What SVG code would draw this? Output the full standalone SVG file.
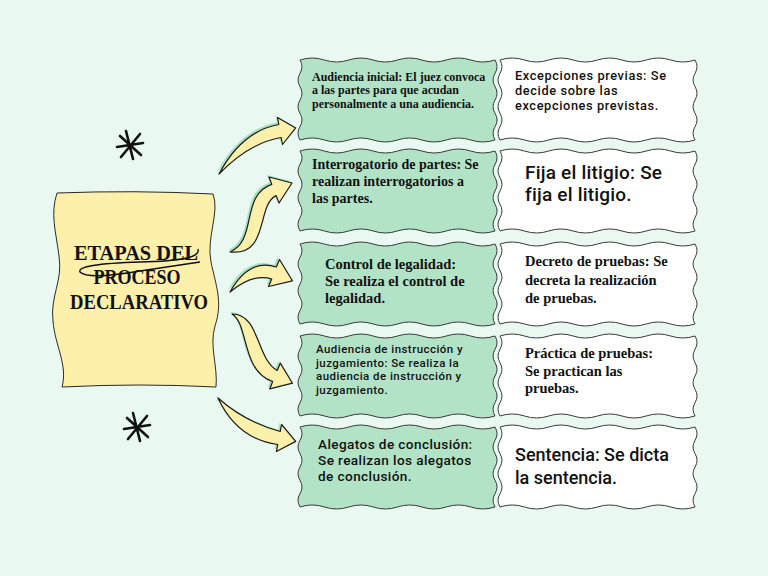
<svg xmlns="http://www.w3.org/2000/svg" xmlns:xlink="http://www.w3.org/1999/xlink" width="768" height="576" viewBox="0 0 768 576">
<style>
.bg{fill:#e9f8f0}
.green{fill:#b3e3c7;stroke:#3a3a3a;stroke-width:1}
.white{fill:#ffffff;stroke:#3a3a3a;stroke-width:1}
.yellow{fill:#fdf0aa;stroke:#2a2a2a;stroke-width:1}
.arrow{fill:#fdf0aa;stroke:#1a1a1a;stroke-width:1.2;stroke-linejoin:round}
.shadow{fill:#a8dfc0;stroke:none}
.serif{font-family:"Liberation Serif","Times New Roman",serif;font-weight:bold;fill:#111}
.sans{font-family:Roboto,"Liberation Sans",sans-serif;font-weight:500;fill:#111}
.star{stroke:#111;stroke-width:2.6;stroke-linecap:round;fill:none}
</style>
<defs>
<path id="wv" d="M0 0 q12.19 -4 24.38 0 t24.38 0 t24.38 0 t24.38 0 t24.38 0 t24.38 0 t24.38 0 t24.38 0 q4 6.67 0 13.33 t0 13.33 t0 13.33 t0 13.33 t0 13.33 t0 13.33 q-12.19 4 -24.38 0 t-24.38 0 t-24.38 0 t-24.38 0 t-24.38 0 t-24.38 0 t-24.38 0 t-24.38 0 q-4 -6.67 0 -13.33 t0 -13.33 t0 -13.33 t0 -13.33 t0 -13.33 t0 -13.33 z"/>
<path id="a1" d="M219 174 Q242 131 278.8 124.5 L277.5 117.5 L295.7 127.9 L282.5 144.5 L281.2 137.5 Q249 143 219 174 Z"/>
<path id="a2" d="M230 252 C258 240 240 195 271.8 184.4 L269 177 L292 183 L279 203 L276.2 195.6 C256 205 270 256 230 252 Z"/>
<path id="a3" d="M230 292 Q249 258 276.3 267 L279.5 259.5 L292.4 280.8 L268.5 286.5 L271.7 279 Q253 273 230 292 Z"/>
<path id="a4" d="M232 314 C260 314 256 359 277.3 370.5 L280.3 363.1 L292.5 383.2 L269.7 388.9 L272.7 381.5 C241 371 249 324 232 314 Z"/>
<path id="a5" d="M218 398 Q245 422 280.2 431.5 L281.6 424.5 L295.7 441.4 L276.4 451.5 L277.8 444.5 Q237 439 218 398 Z"/>
</defs>
<rect class="bg" x="0" y="0" width="768" height="576"/>

<g id="decor">
<path class="star" d="M126 131 L133 159 M117 147 L143 143 M120 136 L141 155 M140 134 L121 157"/>
<path class="star" d="M133 413 L140 441 M124 429 L150 425 M127 418 L148 437 M147 416 L128 439"/>
</g>

<g id="connectors">
<use href="#a1" class="shadow" transform="translate(-2,-2)"/>
<use href="#a2" class="shadow" transform="translate(-2,-2)"/>
<use href="#a3" class="shadow" transform="translate(-2,-2)"/>
<use href="#a4" class="shadow" transform="translate(-2,-2)"/>
<use href="#a5" class="shadow" transform="translate(-2,-2)"/>
<use href="#a1" class="arrow"/>
<use href="#a2" class="arrow"/>
<use href="#a3" class="arrow"/>
<use href="#a4" class="arrow"/>
<use href="#a5" class="arrow"/>
</g>

<g id="title">
<path class="yellow" d="M57 193 Q135 190 213 194 C220 212 206 238 211 262 C216 286 223 302 215 326 C209 346 218 366 216 387 Q140 383 62 387 C68 365 55 346 53 321 C50 296 63 281 59 256 C56 232 50 214 57 193 Z"/>
<text class="serif" font-size="21" text-anchor="middle" x="136" y="260" textLength="124" lengthAdjust="spacingAndGlyphs">ETAPAS DEL</text>
<text class="serif" font-size="21" text-anchor="middle" x="137" y="284" textLength="87" lengthAdjust="spacingAndGlyphs">PROCESO</text>
<text class="serif" font-size="21" text-anchor="middle" x="139" y="309" textLength="138" lengthAdjust="spacingAndGlyphs">DECLARATIVO</text>
<path d="M198 249 Q202 261 140 262 Q76 264 80 272 Q88 280 140 271 L200 262" fill="none" stroke="#111" stroke-width="1.4"/>
</g>

<g id="n1">
<use href="#wv" class="green" x="300" y="60"/>
<text class="serif" font-size="12" x="312"><tspan x="312" y="80.5">Audiencia inicial: El juez convoca</tspan><tspan x="312" y="94">a las partes para que acudan</tspan><tspan x="312" y="107.5">personalmente a una audiencia.</tspan></text>
</g>
<g id="n2">
<use href="#wv" class="green" x="300" y="151"/>
<text class="serif" font-size="14" x="312"><tspan x="312" y="169">Interrogatorio de partes: Se</tspan><tspan x="312" y="186">realizan interrogatorios a</tspan><tspan x="312" y="203">las partes.</tspan></text>
</g>
<g id="n3">
<use href="#wv" class="green" x="300" y="244"/>
<text class="serif" font-size="14.5" x="325"><tspan x="325" y="269">Control de legalidad:</tspan><tspan x="325" y="286">Se realiza el control de</tspan><tspan x="325" y="303">legalidad.</tspan></text>
</g>
<g id="n4">
<use href="#wv" class="green" x="300" y="336"/>
<text class="sans" font-size="11.5" letter-spacing="0.45" x="316"><tspan x="316" y="353">Audiencia de instrucción y</tspan><tspan x="316" y="366.6">juzgamiento: Se realiza la</tspan><tspan x="316" y="380.2">audiencia de instrucción y</tspan><tspan x="316" y="393.8">juzgamiento.</tspan></text>
</g>
<g id="n5">
<use href="#wv" class="green" x="300" y="427"/>
<text class="sans" font-size="13.6" letter-spacing="0.4" x="318"><tspan x="318" y="449">Alegatos de conclusión:</tspan><tspan x="318" y="465">Se realizan los alegatos</tspan><tspan x="318" y="481">de conclusión.</tspan></text>
</g>

<g id="w1">
<use href="#wv" class="white" x="500" y="60"/>
<text class="sans" font-size="12.8" letter-spacing="0.6" x="515"><tspan x="515" y="80">Excepciones previas: Se</tspan><tspan x="515" y="95">decide sobre las</tspan><tspan x="515" y="110">excepciones previstas.</tspan></text>
</g>
<g id="w2">
<use href="#wv" class="white" x="500" y="151"/>
<text class="sans" font-size="19" letter-spacing="0.2" x="525"><tspan x="525" y="178.5">Fija el litigio: Se</tspan><tspan x="525" y="201">fija el litigio.</tspan></text>
</g>
<g id="w3">
<use href="#wv" class="white" x="500" y="244"/>
<text class="serif" font-size="14.5" x="525"><tspan x="525" y="266">Decreto de pruebas: Se</tspan><tspan x="525" y="285">decreta la realización</tspan><tspan x="525" y="302.5">de pruebas.</tspan></text>
</g>
<g id="w4">
<use href="#wv" class="white" x="500" y="336"/>
<text class="serif" font-size="14.5" x="525"><tspan x="525" y="357.5">Práctica de pruebas:</tspan><tspan x="525" y="376">Se practican las</tspan><tspan x="525" y="393">pruebas.</tspan></text>
</g>
<g id="w5">
<use href="#wv" class="white" x="500" y="427"/>
<text class="sans" font-size="18" x="515"><tspan x="515" y="461">Sentencia: Se dicta</tspan><tspan x="515" y="483.5">la sentencia.</tspan></text>
</g>
</svg>
